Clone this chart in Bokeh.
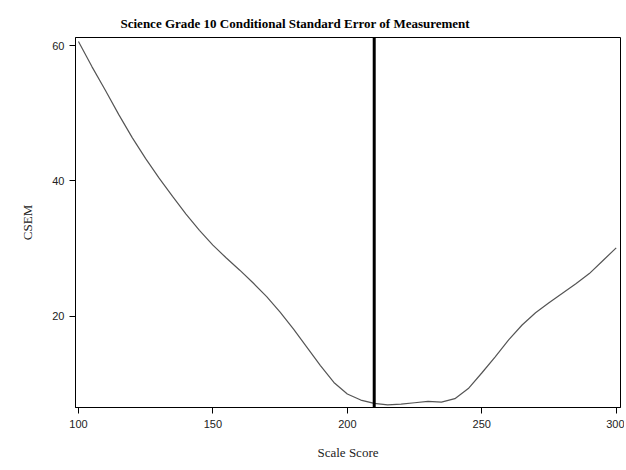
from bokeh.plotting import figure
from bokeh.models import Span, Range1d, FixedTicker, Title
from bokeh.embed import file_html
from bokeh.resources import INLINE

scale_score = [100, 105, 110, 115, 120, 125, 130, 135, 140, 145, 150, 155, 160, 165,
               170, 175, 180, 185, 190, 195, 200, 205, 210, 215, 220, 225, 230, 235,
               240, 245, 250, 255, 260, 265, 270, 275, 280, 285, 290, 295, 300]
csem = [60.6, 56.9, 53.4, 49.8, 46.4, 43.3, 40.4, 37.7, 35.1, 32.7, 30.5, 28.6, 26.8, 24.9,
        22.9, 20.6, 18.1, 15.4, 12.7, 10.2, 8.5, 7.6, 7.1, 6.9, 7.0, 7.2, 7.4, 7.3,
        7.8, 9.3, 11.6, 14.0, 16.5, 18.7, 20.5, 22.0, 23.4, 24.8, 26.3, 28.2, 30.1]
cut_score = [210]
x_ticks = [100, 150, 200, 250, 300]
y_ticks = [20, 40, 60]

p = figure(width=624, height=462, output_backend="svg", toolbar_location=None,
           x_range=Range1d(98.9, 301.6), y_range=Range1d(6.5, 61.2),
           min_border_left=75, min_border_right=4, min_border_top=37, min_border_bottom=53)

p.add_layout(Title(text="Science Grade 10 Conditional Standard Error of Measurement",
                   text_font="Liberation Serif", text_font_size="13px", text_font_style="bold",
                   align="left", offset=45, standoff=14, text_color="black"), "above")

p.line(scale_score, csem, line_color="#555555", line_width=1.2)
for c in cut_score:
    p.add_layout(Span(location=c, dimension="height", line_color="black", line_width=3))

p.xgrid.visible = False
p.ygrid.visible = False
p.outline_line_color = "black"
p.outline_line_width = 1
p.outline_line_alpha = 1

for ax, ticks in ((p.xaxis[0], x_ticks), (p.yaxis[0], y_ticks)):
    ax.ticker = FixedTicker(ticks=ticks)
    ax.minor_tick_line_color = None
    ax.major_tick_out = 6
    ax.major_tick_in = 0
    ax.axis_line_color = "black"
    ax.major_tick_line_color = "black"
    ax.major_label_text_font = "Liberation Sans"
    ax.major_label_text_font_size = "11px"
    ax.major_label_text_color = "#222222"
    ax.axis_label_text_font = "Liberation Serif"
    ax.axis_label_text_font_size = "13px"
    ax.axis_label_text_font_style = "normal"
    ax.axis_label_text_color = "#222222"

p.xaxis.axis_label = "Scale Score"
p.yaxis.axis_label = "CSEM"
p.xaxis.major_label_standoff = 6
p.xaxis.axis_label_standoff = 14
p.yaxis.major_label_standoff = 5
p.yaxis.axis_label_standoff = 14

open("out.html", "w").write(file_html(p, INLINE))
